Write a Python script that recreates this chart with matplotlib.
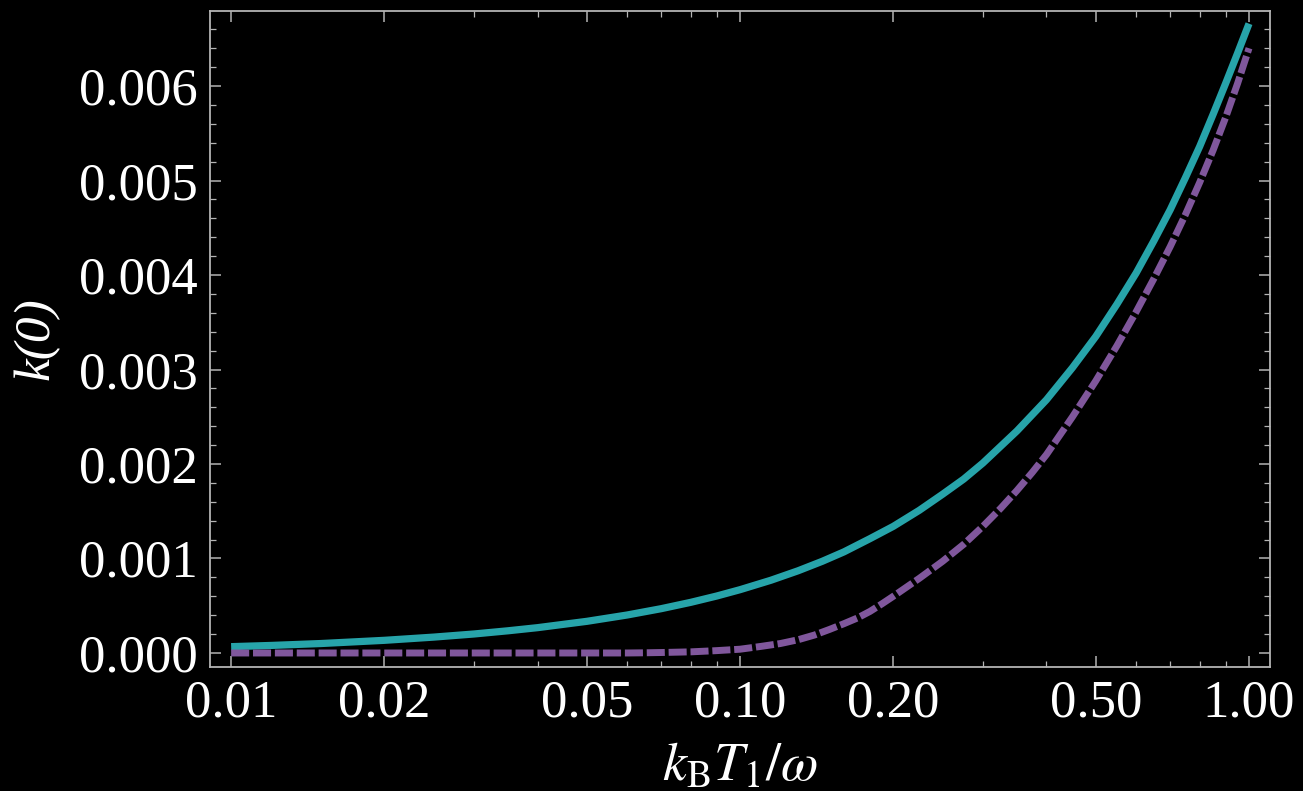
import numpy as np
import matplotlib.pyplot as plt
from matplotlib.ticker import FixedLocator, FixedFormatter, MultipleLocator

plt.rcParams['font.family'] = ['Liberation Serif', 'DejaVu Serif']
plt.rcParams['mathtext.fontset'] = 'stix'

# values
x_solid = [0.01, 0.012, 0.015, 0.02, 0.025, 0.03, 0.035, 0.04, 0.05, 0.06,
           0.07, 0.08, 0.09, 0.1, 0.115, 0.13, 0.145, 0.16, 0.18, 0.2, 0.225,
           0.25, 0.275, 0.3, 0.35, 0.4, 0.45, 0.5, 0.55, 0.6, 0.65, 0.7,
           0.75, 0.8, 0.85, 0.9, 0.95, 1.0]
k_solid = [0.000067, 0.00008, 0.0001, 0.000134, 0.000168, 0.000201,
           0.000235, 0.000268, 0.000335, 0.000402, 0.000469, 0.000536,
           0.000603, 0.00067, 0.00077, 0.00087, 0.00097, 0.00107, 0.00121,
           0.00134, 0.00151, 0.00168, 0.00184, 0.00201, 0.00235, 0.00268,
           0.00302, 0.00335, 0.00369, 0.00402, 0.00436, 0.00469, 0.00503,
           0.00536, 0.0057, 0.00603, 0.00635, 0.00666]

x_dash = [0.01, 0.02, 0.03, 0.04, 0.05, 0.06, 0.065, 0.07, 0.08, 0.09, 0.1,
          0.11, 0.12, 0.13, 0.14, 0.15, 0.16, 0.17, 0.18, 0.19, 0.2, 0.225,
          0.25, 0.275, 0.3, 0.325, 0.35, 0.375, 0.4, 0.45, 0.5, 0.55, 0.6,
          0.65, 0.7, 0.75, 0.8, 0.85, 0.9, 0.95, 1.0]
k_dash = [0.0, 0.0, 0.0, 0.0, 0.0, 0.0, 0.000002, 0.000005, 0.000012,
          0.000025, 0.00004, 0.00007, 0.0001, 0.00014, 0.00019, 0.00025,
          0.00031, 0.00037, 0.00044, 0.00052, 0.0006, 0.00079, 0.00097,
          0.00115, 0.00134, 0.00153, 0.00172, 0.00191, 0.0021, 0.0025,
          0.00288, 0.00325, 0.00361, 0.00396, 0.0043, 0.00464, 0.00498,
          0.00532, 0.00567, 0.00603, 0.0064]

x_ticks = [0.01, 0.02, 0.05, 0.1, 0.2, 0.5, 1.0]
x_tick_labels = ["0.01", "0.02", "0.05", "0.10", "0.20", "0.50", "1.00"]
y_ticks = [0.0, 0.001, 0.002, 0.003, 0.004, 0.005, 0.006]
y_tick_labels = ["0.000", "0.001", "0.002", "0.003", "0.004", "0.005", "0.006"]

fig = plt.figure(figsize=(13.03, 7.91), dpi=100, facecolor='black')
ax = fig.add_axes([0.1612, 0.1568, 0.8135, 0.8293], facecolor='black')

ax.plot(x_solid, k_solid, color='#27a4aa', lw=5.2, solid_capstyle='butt')
ax.plot(x_dash, k_dash, color='#80579c', lw=5.0, dashes=(2.6, 0.55),
        dash_capstyle='butt')

ax.set_xscale('log')
ax.set_xlim(0.00909, 1.0998)
ax.set_ylim(-0.000148, 0.006794)

ax.xaxis.set_major_locator(FixedLocator(x_ticks))
ax.xaxis.set_major_formatter(FixedFormatter(x_tick_labels))
minor_x = [round(v * m, 3) for v in (0.01, 0.1) for m in range(2, 10)]
ax.xaxis.set_minor_locator(FixedLocator([m for m in minor_x if m not in x_ticks]))
ax.xaxis.set_minor_formatter(FixedFormatter([]))
ax.yaxis.set_major_locator(FixedLocator(y_ticks))
ax.yaxis.set_major_formatter(FixedFormatter(y_tick_labels))
ax.yaxis.set_minor_locator(MultipleLocator(0.0002))

for s in ax.spines.values():
    s.set_color('#b4b4b4')
    s.set_linewidth(1.3)

ax.tick_params(which='both', direction='in', top=True, right=True,
               colors='#b4b4b4', labelcolor='white', labelsize=38)
ax.tick_params(which='major', length=8, width=1.1, pad=9)
ax.tick_params(which='minor', length=4, width=0.9)

ax.set_xlabel(r'$k_{\mathrm{B}}T_1/\omega$', color='white', fontsize=39,
              labelpad=11)
ax.set_ylabel('k(0)', color='white', fontsize=37, fontstyle='italic',
              labelpad=14)

fig.savefig('out.png', dpi=100, facecolor='black')
